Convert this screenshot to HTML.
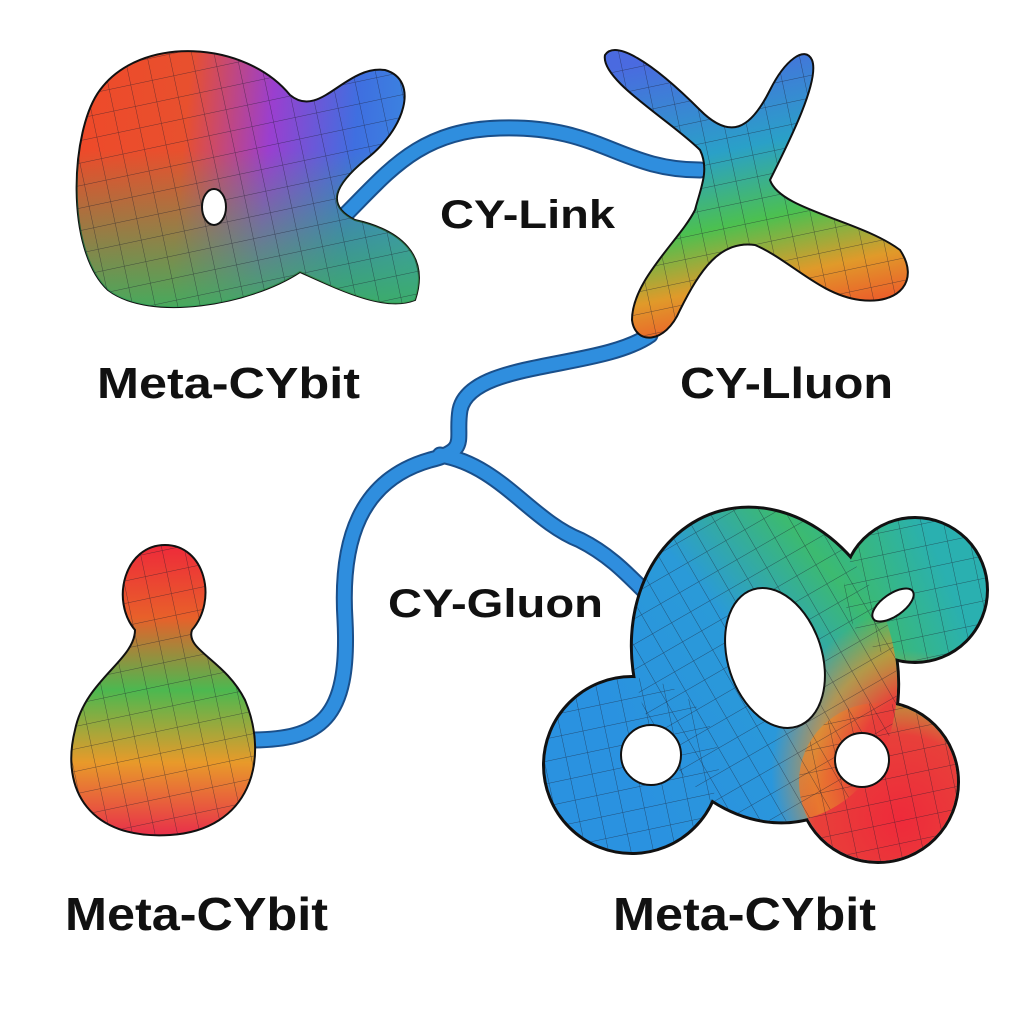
<!DOCTYPE html>
<html><head><meta charset="utf-8"><style>
html,body{margin:0;padding:0;background:#fff;}
svg{display:block}
text{font-family:"Liberation Sans",sans-serif;font-weight:bold;fill:#111}
</style></head><body>
<svg width="1024" height="1024" viewBox="0 0 1024 1024">
<defs>
<pattern id="grid" width="22" height="22" patternUnits="userSpaceOnUse" patternTransform="rotate(-12)">
<path d="M0 0H22M0 0V22" stroke="#1a1a2a" stroke-width="1" stroke-opacity="0.55" fill="none"/>
</pattern>
<linearGradient id="gTL" gradientUnits="userSpaceOnUse" x1="80" y1="150" x2="420" y2="180">
<stop offset="0" stop-color="#ee4a2a"/><stop offset="0.3" stop-color="#e8502e"/>
<stop offset="0.55" stop-color="#9a3fcf"/><stop offset="0.8" stop-color="#3f6fe0"/><stop offset="1" stop-color="#3a8ae0"/></linearGradient>
<linearGradient id="gTLg" gradientUnits="userSpaceOnUse" x1="0" y1="150" x2="0" y2="310">
<stop offset="0" stop-color="#3cb060" stop-opacity="0"/><stop offset="1" stop-color="#3cb060" stop-opacity="0.95"/></linearGradient>
<linearGradient id="gX" gradientUnits="userSpaceOnUse" x1="700" y1="50" x2="760" y2="340">
<stop offset="0" stop-color="#4a6ae0"/><stop offset="0.35" stop-color="#2aa0c8"/>
<stop offset="0.6" stop-color="#4cc050"/><stop offset="0.8" stop-color="#e09a2a"/><stop offset="1" stop-color="#f04a2a"/></linearGradient>
<linearGradient id="gP" gradientUnits="userSpaceOnUse" x1="0" y1="545" x2="0" y2="835">
<stop offset="0" stop-color="#ee2a3a"/><stop offset="0.25" stop-color="#e8602a"/>
<stop offset="0.5" stop-color="#4cb850"/><stop offset="0.75" stop-color="#e89a2a"/><stop offset="1" stop-color="#e8304a"/></linearGradient>
<linearGradient id="gK" gradientUnits="userSpaceOnUse" x1="600" y1="700" x2="940" y2="560">
<stop offset="0" stop-color="#2a92e0"/><stop offset="0.45" stop-color="#2a9ad8"/>
<stop offset="0.75" stop-color="#3cba70"/><stop offset="1" stop-color="#2ab0b0"/></linearGradient>
<radialGradient id="gKr" gradientUnits="userSpaceOnUse" cx="900" cy="820" r="170">
<stop offset="0" stop-color="#ee2a3a"/><stop offset="0.5" stop-color="#e8403a"/>
<stop offset="0.75" stop-color="#e8902a" stop-opacity="0.7"/><stop offset="1" stop-color="#e8902a" stop-opacity="0"/></radialGradient>
</defs>

<g fill="none" stroke-linecap="round">
<g stroke="#1a4f8a" stroke-width="17">
<path d="M345,215 C390,170 420,130 500,128 C600,125 620,170 700,170"/>
<path d="M650,335 C600,370 470,360 460,410 C455,440 470,450 430,460 C360,480 340,540 345,620 C350,720 320,740 250,740"/>
<path d="M440,455 C500,465 530,520 580,540 C620,560 640,590 665,610"/>
</g>
<g stroke="#2f8ede" stroke-width="13">
<path d="M345,215 C390,170 420,130 500,128 C600,125 620,170 700,170"/>
<path d="M650,335 C600,370 470,360 460,410 C455,440 470,450 430,460 C360,480 340,540 345,620 C350,720 320,740 250,740"/>
<path d="M440,455 C500,465 530,520 580,540 C620,560 640,590 665,610"/>
</g>
</g>

<g stroke="#111" stroke-width="2">
<path d="M100,90 C140,35 245,40 290,95 C320,120 345,65 385,70 C420,80 405,130 365,160 C335,185 325,205 355,220 C400,230 430,255 415,300 C385,312 340,290 300,272 C250,305 150,322 108,290 C65,250 70,130 100,90 Z" fill="url(#gTL)"/>
<path d="M100,90 C140,35 245,40 290,95 C320,120 345,65 385,70 C420,80 405,130 365,160 C335,185 325,205 355,220 C400,230 430,255 415,300 C385,312 340,290 300,272 C250,305 150,322 108,290 C65,250 70,130 100,90 Z" fill="url(#gTLg)" stroke="none"/>
<path d="M100,90 C140,35 245,40 290,95 C320,120 345,65 385,70 C420,80 405,130 365,160 C335,185 325,205 355,220 C400,230 430,255 415,300 C385,312 340,290 300,272 C250,305 150,322 108,290 C65,250 70,130 100,90 Z" fill="url(#grid)" stroke="none"/>
<ellipse cx="214" cy="207" rx="12" ry="18" fill="#fff"/>
</g>

<g stroke="#111" stroke-width="2">
<path d="M700,150 C670,120 600,80 605,55 C615,40 650,60 700,110 C730,140 750,130 770,90 C785,60 805,45 812,60 C820,80 790,140 770,180 C780,210 860,220 900,250 C920,280 900,305 860,300 C820,295 790,260 755,245 C720,240 700,270 680,310 C665,345 635,345 632,320 C632,280 680,240 695,210 C700,190 710,170 700,150 Z" fill="url(#gX)"/>
<path d="M700,150 C670,120 600,80 605,55 C615,40 650,60 700,110 C730,140 750,130 770,90 C785,60 805,45 812,60 C820,80 790,140 770,180 C780,210 860,220 900,250 C920,280 900,305 860,300 C820,295 790,260 755,245 C720,240 700,270 680,310 C665,345 635,345 632,320 C632,280 680,240 695,210 C700,190 710,170 700,150 Z" fill="url(#grid)" stroke="none"/>
</g>

<g stroke="#111" stroke-width="2">
<path d="M165,545 C205,545 218,600 192,630 C185,650 225,660 245,700 C270,760 250,830 170,835 C90,840 60,790 75,730 C85,680 135,660 135,630 C110,600 125,545 165,545 Z" fill="url(#gP)"/>
<path d="M165,545 C205,545 218,600 192,630 C185,650 225,660 245,700 C270,760 250,830 170,835 C90,840 60,790 75,730 C85,680 135,660 135,630 C110,600 125,545 165,545 Z" fill="url(#grid)" stroke="none"/>
</g>

<g stroke="#111" stroke-width="2">
<g fill="#111" stroke="#111" stroke-width="4">
<circle cx="915" cy="590" r="72"/><circle cx="878" cy="782" r="80"/>
<circle cx="632" cy="765" r="88"/><ellipse cx="765" cy="665" rx="130" ry="160" transform="rotate(-18 765 665)"/>
</g>
<g fill="url(#gK)" stroke="none">
<circle cx="915" cy="590" r="71"/><circle cx="878" cy="782" r="79"/>
<circle cx="632" cy="765" r="87"/><ellipse cx="765" cy="665" rx="129" ry="159" transform="rotate(-18 765 665)"/>
</g>
<g fill="url(#gKr)" stroke="none">
<circle cx="915" cy="590" r="71"/><circle cx="878" cy="782" r="79"/>
<circle cx="632" cy="765" r="87"/><ellipse cx="765" cy="665" rx="129" ry="159" transform="rotate(-18 765 665)"/>
</g>
<g fill="url(#grid)" stroke="none">
<circle cx="915" cy="590" r="71"/><circle cx="878" cy="782" r="79"/>
<circle cx="632" cy="765" r="87"/><ellipse cx="765" cy="665" rx="129" ry="159" transform="rotate(-18 765 665)"/>
</g>
<ellipse cx="775" cy="658" rx="47" ry="72" transform="rotate(-18 775 658)" fill="#fff"/>
<circle cx="651" cy="755" r="30" fill="#fff"/>
<ellipse cx="893" cy="605" rx="24" ry="11" transform="rotate(-35 893 605)" fill="#fff"/>
<circle cx="862" cy="760" r="27" fill="#fff"/>
</g>

<text x="97" y="398" font-size="44" textLength="263" lengthAdjust="spacingAndGlyphs">Meta-CYbit</text>
<text x="440" y="228" font-size="40" textLength="175" lengthAdjust="spacingAndGlyphs">CY-Link</text>
<text x="680" y="398" font-size="44" textLength="213" lengthAdjust="spacingAndGlyphs">CY-Lluon</text>
<text x="388" y="617" font-size="40" textLength="215" lengthAdjust="spacingAndGlyphs">CY-Gluon</text>
<text x="65" y="930" font-size="46" textLength="263" lengthAdjust="spacingAndGlyphs">Meta-CYbit</text>
<text x="613" y="930" font-size="46" textLength="263" lengthAdjust="spacingAndGlyphs">Meta-CYbit</text>
</svg>
</body></html>
